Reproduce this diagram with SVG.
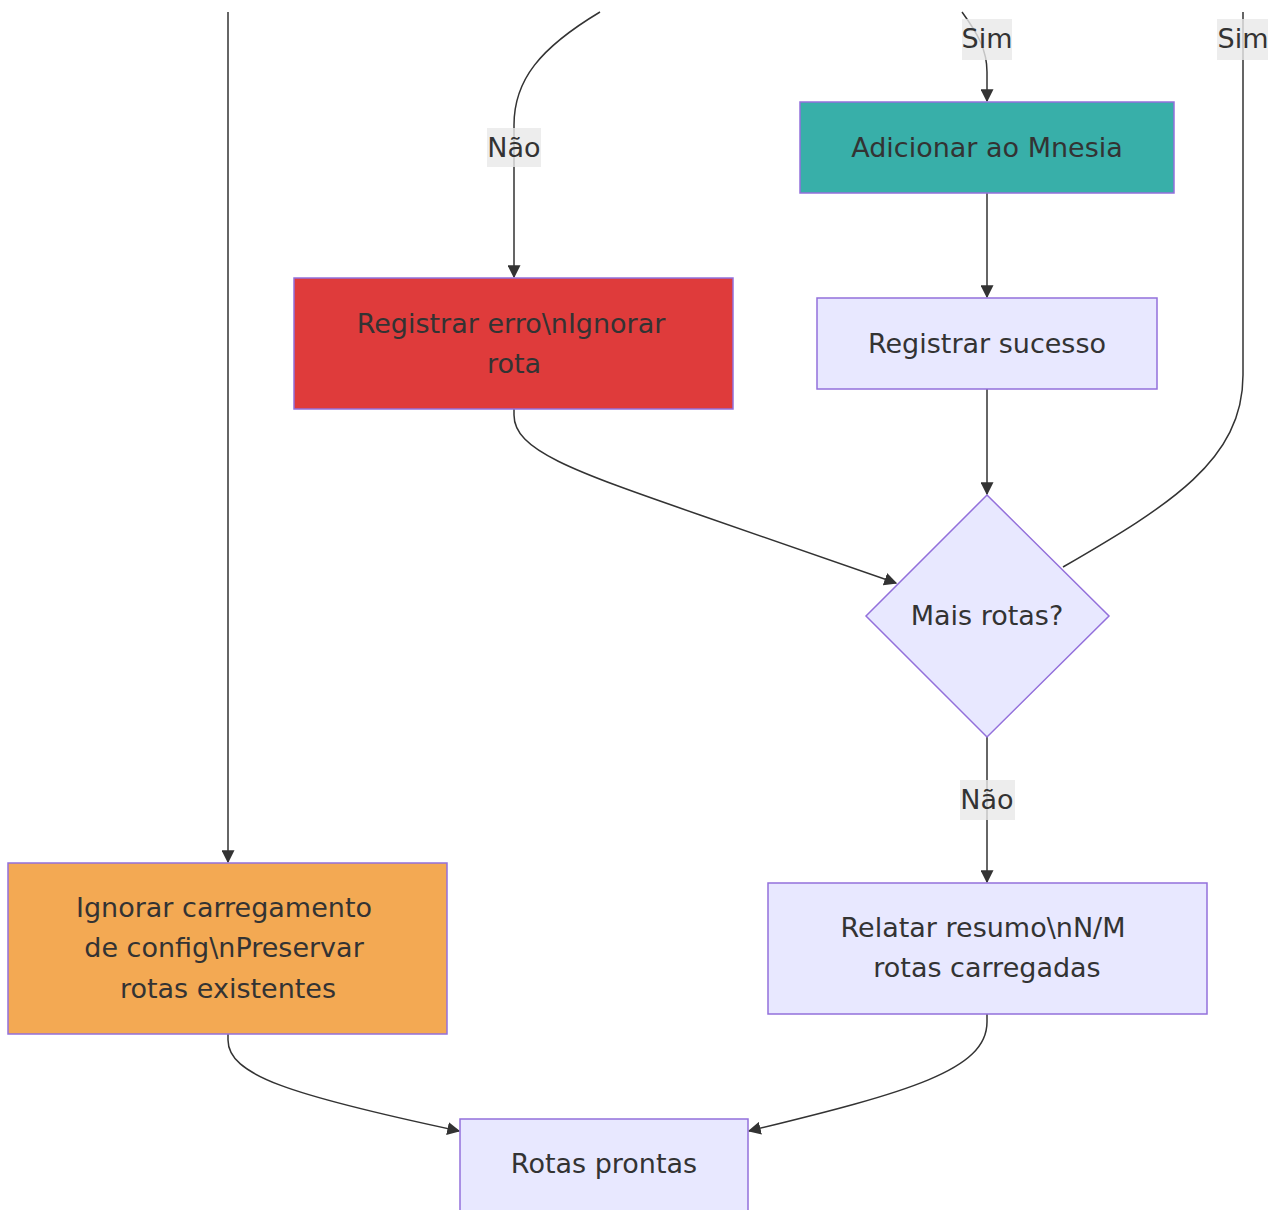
<svg xmlns="http://www.w3.org/2000/svg" width="1279" height="1210" viewBox="0 0 1279 1210">
<defs>
<marker id="arr" viewBox="0 0 10 10" refX="9" refY="5" markerWidth="13" markerHeight="13" markerUnits="userSpaceOnUse" orient="auto">
<path d="M0,0 L10,5 L0,10 z" fill="#333"/>
</marker>
<style>
.node{stroke:#9370DB;stroke-width:1.5}
.def{fill:#E8E8FF}
.t{font-family:"DejaVu Sans",Verdana,sans-serif;font-size:27px;fill:#333;text-anchor:middle;dominant-baseline:central}
.e{fill:none;stroke:#333;stroke-width:1.5}
.lb{fill:#E8E8E8;opacity:0.8}
</style>
</defs>
<rect width="1279" height="1210" fill="#fff"/>
<g id="edges">
<path class="e" d="M228,12 L228,862" marker-end="url(#arr)"/>
<path class="e" d="M600,12 C540,48 514,80 514,125 L514,277" marker-end="url(#arr)"/>
<path class="e" d="M962,12 C978,34 987,50 987,72 L987,101" marker-end="url(#arr)"/>
<path class="e" d="M1243,12 L1243,375 C1243,460 1170,505 1063,567"/>
<path class="e" d="M987,193 L987,297" marker-end="url(#arr)"/>
<path class="e" d="M987,389 L987,494" marker-end="url(#arr)"/>
<path class="e" d="M514,409 L514,415 C514,450 570,470 700,515 L896,583" marker-end="url(#arr)"/>
<path class="e" d="M987,737 L987,882" marker-end="url(#arr)"/>
<path class="e" d="M228,1034 L228,1040 C228,1075 290,1095 459,1131" marker-end="url(#arr)"/>
<path class="e" d="M987,1014 L987,1022 C987,1070 910,1092 749,1131" marker-end="url(#arr)"/>
</g>
<g id="edge-labels">
<g id="lbl-nao1"><rect class="lb" x="487" y="128" width="54" height="39"/><text class="t" x="514" y="147">Não</text></g>
<g id="lbl-sim1"><rect class="lb" x="962" y="19" width="50" height="41"/><text class="t" x="987" y="38">Sim</text></g>
<g id="lbl-sim2"><rect class="lb" x="1217" y="19" width="51" height="41"/><text class="t" x="1243" y="38">Sim</text></g>
<g id="lbl-nao2"><rect class="lb" x="960" y="780" width="55" height="40"/><text class="t" x="987" y="799">Não</text></g>
</g>
<g id="n-mnesia"><rect class="node" x="800" y="102" width="374" height="91" fill="#38AFA9"/><text class="t" x="987" y="147">Adicionar ao Mnesia</text></g>
<g id="n-erro"><rect class="node" x="294" y="278" width="439" height="131" fill="#DF3B3B"/><text class="t" x="511" y="323">Registrar erro\nIgnorar</text><text class="t" x="514" y="363">rota</text></g>
<g id="n-sucesso"><rect class="node def" x="817" y="298" width="340" height="91"/><text class="t" x="987" y="343">Registrar sucesso</text></g>
<g id="n-mais"><polygon class="node def" points="987,495 1109,616 987,737 866,616"/><text class="t" x="987" y="615">Mais rotas?</text></g>
<g id="n-ignorar"><rect class="node" x="8" y="863" width="439" height="171" fill="#F3A953"/><text class="t" x="224" y="907">Ignorar carregamento</text><text class="t" x="224" y="947">de config\nPreservar</text><text class="t" x="228" y="988">rotas existentes</text></g>
<g id="n-relatar"><rect class="node def" x="768" y="883" width="439" height="131"/><text class="t" x="983" y="927">Relatar resumo\nN/M</text><text class="t" x="987" y="967">rotas carregadas</text></g>
<g id="n-prontas"><rect class="node def" x="460" y="1119" width="288" height="100"/><text class="t" x="604" y="1163">Rotas prontas</text></g>
</svg>
